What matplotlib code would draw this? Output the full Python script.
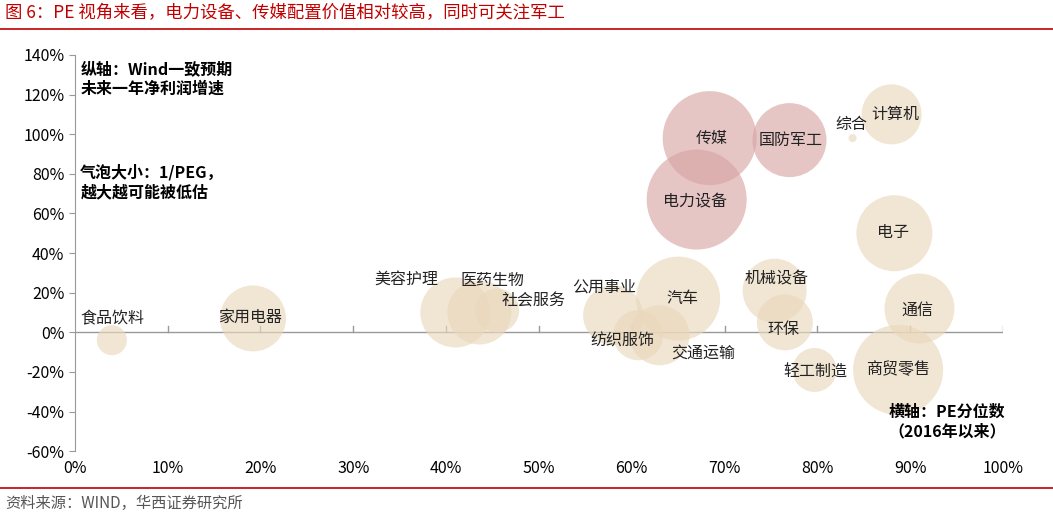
import matplotlib
matplotlib.use("Agg")
import matplotlib.pyplot as plt
from matplotlib.ticker import FuncFormatter

plt.rcParams['font.family'] = ['Noto Sans CJK SC', 'DejaVu Sans']

names = ['食品饮料','家用电器','美容护理','医药生物','社会服务','公用事业','纺织服饰','交通运输','汽车',
         '传媒','电力设备','国防军工','综合','计算机','电子','机械设备','环保','通信','轻工制造','商贸零售']
pe_pct = [4.0,19.2,41.0,43.6,45.5,58.0,60.7,63.0,65.0,68.4,67.0,77.0,83.8,88.0,88.3,75.4,76.5,91.0,79.7,88.7]
growth = [-4,7,10,10,11,8.6,-1.5,-1.5,17,98,67,97,98,110,50,21,5,12,-19,-19]
inv_peg = [15,33,35,32,22,30,25,30,42,47,50,37,4,30,38,32,28,35,22,45]
highlight = ['传媒','电力设备','国防军工']
label_x = [4.1,18.9,35.7,45.0,49.4,57.0,59.0,67.7,65.5,68.6,66.8,77.1,83.7,88.4,88.1,75.6,76.4,90.8,79.8,88.7]
label_y = [7,7.6,27,26,15.6,23,-4.5,-10.6,17,98,66,97,105,110,50.5,27,1.5,11,-20,-18.7]

fig = plt.figure(figsize=(10.53,5.18), dpi=100)
ax = fig.add_axes([0.071,0.129,0.8815,0.765])
sizes = [(1.44*r)**2 for r in inv_peg]
cols = ['#d9a6a6' if n in highlight else '#ead8bc' for n in names]
ax.scatter(pe_pct, growth, s=sizes, c=cols, alpha=0.65, edgecolors='none', zorder=2)
for n,x,y in zip(names,label_x,label_y):
    ax.text(x,y,n,ha='center',va='center',fontsize=11.5,color='#222222',zorder=3)

ax.set_xlim(0,100); ax.set_ylim(-60,140)
ax.set_xticks(range(0,101,10)); ax.set_yticks(range(-60,141,20))
ax.xaxis.set_major_formatter(FuncFormatter(lambda v,p:f'{v:.0f}%'))
ax.yaxis.set_major_formatter(FuncFormatter(lambda v,p:f'{v:.0f}%'))
for s in ['top','right','bottom']:
    ax.spines[s].set_visible(False)
ax.spines['left'].set_color('#999999')
ax.tick_params(axis='x',length=0,labelsize=11.5,pad=6)
ax.tick_params(axis='y',length=4,color='#999999',labelsize=11.5)
ax.axhline(0,color='#999999',lw=1,zorder=1)
for t in range(10,101,10):
    ax.plot([t,t],[0,3],color='#999999',lw=1,zorder=1)

ax.text(0.6,137,'纵轴：Wind一致预期\n未来一年净利润增速',fontsize=11.5,fontweight='bold',va='top',linespacing=1.3)
ax.text(0.6,85,'气泡大小：1/PEG，\n越大越可能被低估',fontsize=11.5,fontweight='bold',va='top',linespacing=1.3)
ax.text(94,-45,'横轴：PE分位数\n（2016年以来）',fontsize=11.5,fontweight='bold',ha='center',va='center',linespacing=1.3)

red='#c00000'
fig.text(0.005,0.975,'图 6：PE 视角来看，电力设备、传媒配置价值相对较高，同时可关注军工',color=red,fontsize=12.5,va='center')
fig.add_artist(plt.Line2D([0,1],[0.944,0.944],color=red,lw=1.2,transform=fig.transFigure))
fig.add_artist(plt.Line2D([0,1],[0.058,0.058],color=red,lw=1.2,transform=fig.transFigure))
fig.text(0.005,0.028,'资料来源：WIND，华西证券研究所',color='#555555',fontsize=11,va='center')
fig.savefig('out.png',dpi=100)
